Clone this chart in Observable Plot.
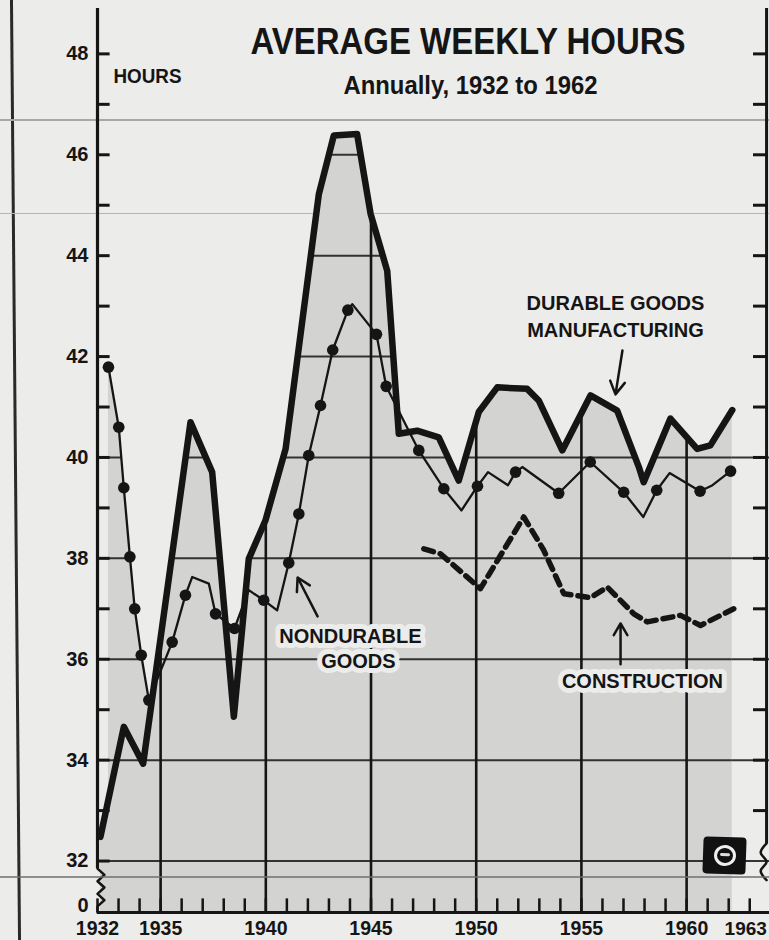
<!DOCTYPE html>
<html>
<head>
<meta charset="utf-8">
<script src="https://cdn.jsdelivr.net/npm/d3@7"></script>
<script src="https://cdn.jsdelivr.net/npm/@observablehq/plot@0.6"></script>
<style>
  html, body { margin: 0; padding: 0; background: #ececeb; }
  #wrap { position: relative; width: 769px; height: 940px; overflow: hidden; background: #ececeb; }
  #chart { position: absolute; left: 0; top: 0; }
  #chart svg { display: block; }
  .deco { position: absolute; pointer-events: none; }
  #pageline { left: 14px; top: -5px; width: 3px; height: 950px; background: #2a2a2a; transform: rotate(-0.49deg); }
  .scan { left: 0; width: 769px; }
  #logo { left: 703px; top: 837px; width: 43px; height: 37px; background: #111; border-radius: 4px; transform: rotate(2deg); }
  #ring { position: absolute; left: 11px; top: 8px; width: 16px; height: 15px; border: 3px solid #eee; border-radius: 50%; }
  #ring::after { content: ""; position: absolute; left: 3px; top: 5px; width: 10px; height: 3px; background: #ddd; border-radius: 2px; }
</style>
</head>
<body>
<div id="wrap">
  <div class="deco" id="pageline"></div>
  <div class="deco scan" style="top:119px;height:2px;background:#a8a8a8"></div>
  <div class="deco scan" style="top:213px;height:1px;background:#b5b5b5"></div>
  <div id="chart"></div>
  <div class="deco scan" style="top:876px;height:2px;background:#6f6f6f;opacity:0.75"></div>
  <div class="deco" id="logo"><div id="ring"></div></div>
</div>
<script>
// ---------------- data ----------------
// Durable goods manufacturing (heavy line)
const durableYears = [1932.14, 1933.25, 1934.17, 1936.42, 1937.45, 1938.48, 1939.19, 1939.98, 1940.94,
  1942.52, 1943.23, 1944.34, 1944.98, 1945.77, 1946.32, 1947.19, 1948.22, 1949.17, 1950.12, 1951.00,
  1952.42, 1952.97, 1954.09, 1955.43, 1956.70, 1957.73, 1957.96, 1959.23, 1960.50, 1961.13, 1962.17];
const durableHours = [32.48, 34.66, 33.93, 40.70, 39.71, 34.86, 37.99, 38.75, 40.17,
  45.22, 46.38, 46.41, 44.83, 43.70, 40.47, 40.53, 40.40, 39.54, 40.90, 41.39,
  41.36, 41.13, 40.14, 41.23, 40.93, 39.81, 39.51, 40.77, 40.17, 40.24, 40.94];

// Nondurable goods (thin line with dots)
const nondurYears = [1932.52, 1933.01, 1933.25, 1933.54, 1933.77, 1934.08, 1934.44, 1935.55, 1936.18,
  1936.50, 1937.29, 1937.61, 1938.51, 1939.19, 1939.90, 1940.54, 1941.09, 1941.57, 1942.04, 1942.60,
  1943.18, 1943.90, 1944.11, 1945.26, 1945.72, 1947.27, 1948.46, 1949.30, 1950.06, 1950.56, 1951.51,
  1951.87, 1952.19, 1953.92, 1955.42, 1957.01, 1957.94, 1958.58, 1959.19, 1960.64, 1961.23, 1962.09];
const nondurHours = [41.79, 40.60, 39.40, 38.03, 37.00, 36.08, 35.19, 36.34, 37.27,
  37.63, 37.50, 36.90, 36.61, 37.37, 37.17, 36.97, 37.91, 38.88, 40.04, 41.03,
  42.13, 42.92, 43.04, 42.44, 41.41, 40.14, 39.38, 38.95, 39.43, 39.71, 39.45,
  39.71, 39.81, 39.29, 39.91, 39.31, 38.82, 39.35, 39.69, 39.33, 39.45, 39.73];
const nondurDot = [1, 1, 1, 1, 1, 1, 1, 1, 1,
  0, 0, 1, 1, 0, 1, 0, 1, 1, 1, 1,
  1, 1, 0, 1, 1, 1, 1, 0, 1, 0, 0,
  1, 0, 1, 1, 1, 0, 1, 0, 1, 0, 1];

// Construction (dashed line)
const constrYears = [1947.51, 1948.30, 1950.20, 1952.26, 1953.21, 1954.16, 1955.43, 1956.23, 1957.49,
  1958.13, 1959.71, 1960.66, 1962.24];
const constrHours = [38.19, 38.09, 37.40, 38.82, 38.16, 37.30, 37.22, 37.43, 36.90,
  36.74, 36.87, 36.67, 37.00];

// Axis ticks and labels
const yTickLabels = [32, 34, 36, 38, 40, 42, 44, 46, 48];
const yGridHours = [32, 34, 36, 38, 40, 42, 44, 46];
const xTickLabels = [1932, 1935, 1940, 1945, 1950, 1955, 1960, 1963];
const xGridYears = [1935, 1940, 1945, 1950, 1955, 1960];
const minorYears = d3.range(1932, 1964);
const minorHours = d3.range(32, 49);
const zeroLabel = ["0"];

// Texts
const titleText = ["AVERAGE WEEKLY HOURS"];
const subtitleText = ["Annually, 1932 to 1962"];
const unitText = ["HOURS"];
const labelText = ["DURABLE GOODS", "MANUFACTURING", "NONDURABLE", "GOODS", "CONSTRUCTION"];
const labelYear = [1956.62, 1956.62, 1944.02, 1944.40, 1957.90];
const labelHours = [43.05, 42.52, 36.45, 35.96, 35.56];

// Pointer arrows (from label toward its line)
const arrowYear1 = [1956.95, 1942.46, 1956.86];
const arrowHours1 = [42.12, 36.85, 35.90];
const arrowYear2 = [1956.62, 1941.51, 1956.86];
const arrowHours2 = [41.25, 37.62, 36.71];

// ---------------- tables ----------------
const durable = durableYears.map((year, i) => ({year, hours: durableHours[i]}));
const nondur = nondurYears.map((year, i) => ({year, hours: nondurHours[i], dot: nondurDot[i] === 1}));
const constr = constrYears.map((year, i) => ({year, hours: constrHours[i]}));
const labels = labelText.map((text, i) => ({text, year: labelYear[i], hours: labelHours[i]}));
const arrows = arrowYear1.map((x1, i) => ({x1, y1: arrowHours1[i], x2: arrowYear2[i], y2: arrowHours2[i]}));

// ---------------- layout ----------------
const W = 769, H = 940;
const ink = "#151515", paper = "#ececeb", shade = "#d3d3d2";
const yBase = 30.98, yTop = 48.86;      // broken axis: bottom of frame stands for 0
const xStart = 1932, xRight = 1963.8, xEdge = 1964.3;
const lastD = durable[durable.length - 1];
const maskExt = [{year: lastD.year, hours: lastD.hours}, {year: xEdge, hours: lastD.hours}];

const zigLeft = d3.range(7).map(i => ({year: xStart + (i % 2 ? 0.33 : 0), hours: 31.85 - i * (31.85 - 31.1) / 6}));
zigLeft.push({year: xStart, hours: yBase});
const zigRight = d3.range(5).map(i => ({year: xRight - (i % 2 ? 0.28 : 0), hours: 32.35 - i * (32.35 - 31.62) / 4}));

const bold = {fontWeight: "bold", fill: ink};
const yearLabelStyle = {y: yBase, text: d => String(d), dy: 16, lineAnchor: "middle", fontSize: 19.5, ...bold};

const chart = Plot.plot({
  width: W,
  height: H,
  marginLeft: 97,
  marginRight: 19.76,
  marginTop: 10,
  marginBottom: 28,
  x: {domain: [1932, 1963], axis: null},
  y: {domain: [yBase, yTop], axis: null},
  style: {fontFamily: "'Liberation Sans', Arial, sans-serif", background: "transparent", overflow: "visible", color: ink},
  marks: [
    // shaded areas under the curves
    Plot.areaY(durable, {x: "year", y1: yBase, y2: "hours", fill: shade, ariaDescription: "shade"}),
    Plot.areaY(nondur, {x: "year", y1: yBase, y2: "hours", fill: shade, ariaDescription: "shade"}),
    Plot.areaY(maskExt, {x: "year", y1: yBase, y2: "hours", fill: "none", ariaDescription: "maskext"}),
    // grid (masked to the shaded region after rendering)
    Plot.ruleY(yGridHours, {x1: xStart, x2: xEdge, stroke: ink, strokeWidth: 2, strokeOpacity: 0.85, ariaDescription: "grid"}),
    Plot.ruleX(xGridYears, {y1: yBase, y2: yTop, stroke: ink, strokeWidth: 2.6, ariaDescription: "grid"}),
    // annotation labels with paper halo
    Plot.text(labels, {x: "year", y: "hours", text: "text", fontSize: 20, ...bold, lineAnchor: "middle",
      stroke: paper, strokeWidth: 10, strokeLinejoin: "round", ariaDescription: "label"}),
    // series
    Plot.line(constr, {x: "year", y: "hours", stroke: ink, strokeWidth: 5.5, strokeDasharray: "10,7"}),
    Plot.line(nondur, {x: "year", y: "hours", stroke: ink, strokeWidth: 2.3, strokeLinejoin: "round"}),
    Plot.dot(nondur.filter(d => d.dot), {x: "year", y: "hours", r: 5.8, fill: ink}),
    Plot.line(durable, {x: "year", y: "hours", stroke: ink, strokeWidth: 6.5, strokeLinejoin: "round"}),
    Plot.arrow(arrows, {x1: "x1", y1: "y1", x2: "x2", y2: "y2", stroke: ink, strokeWidth: 2.5, headLength: 12}),
    // left axis
    Plot.ruleX([xStart], {y1: 31.85, y2: yTop + 0.04, stroke: ink, strokeWidth: 3.2}),
    Plot.line(zigLeft, {x: "year", y: "hours", stroke: ink, strokeWidth: 2.5}),
    Plot.ruleY(minorHours, {x1: xStart, x2: xStart + 0.6, stroke: ink, strokeWidth: 3}),
    Plot.text(yTickLabels, {x: xStart, y: d => d, text: d => String(d), dx: -9, textAnchor: "end",
      lineAnchor: "middle", fontSize: 20, ...bold}),
    Plot.text(zeroLabel, {x: xStart, y: yBase, text: d => d, dx: -9, dy: -7, textAnchor: "end",
      lineAnchor: "middle", fontSize: 20, ...bold}),
    // right axis
    Plot.ruleX([xRight], {y1: 32.35, y2: yTop + 0.04, stroke: ink, strokeWidth: 3}),
    Plot.line(zigRight, {x: "year", y: "hours", stroke: ink, strokeWidth: 2.5, curve: "catmull-rom"}),
    Plot.ruleY(minorHours.filter(h => h >= 33), {x1: xRight - 0.62, x2: xRight, stroke: ink, strokeWidth: 3}),
    // bottom axis
    Plot.ruleY([yBase], {x1: xStart, x2: xEdge, stroke: ink, strokeWidth: 3.2}),
    Plot.ruleX(minorYears, {y1: yBase, y2: yBase + 0.27, stroke: ink, strokeWidth: 2.5}),
    Plot.text(xTickLabels.slice(0, -1), {x: d => d, ...yearLabelStyle}),
    Plot.text(xTickLabels.slice(-1), {x: d => d, ...yearLabelStyle, dx: -4, fontSize: 19}),
    // titles
    Plot.text(titleText, {frameAnchor: "top-left", dx: 370.5, dy: 43, text: d => d, textAnchor: "middle",
      lineAnchor: "bottom", fontSize: 36, ...bold, ariaDescription: "title"}),
    Plot.text(subtitleText, {frameAnchor: "top-left", dx: 373, dy: 83, text: d => d, textAnchor: "middle",
      lineAnchor: "bottom", fontSize: 25, ...bold, ariaDescription: "subtitle"}),
    Plot.text(unitText, {frameAnchor: "top-left", dx: 16, dy: 72, text: d => d, textAnchor: "start",
      lineAnchor: "bottom", fontSize: 21, ...bold, ariaDescription: "unit"})
  ]
});

document.getElementById("chart").appendChild(chart);

// ---------------- post-processing: grid only inside shaded region, text fitting ----------------
(function () {
  const svg = chart;
  const NS = "http://www.w3.org/2000/svg";
  const defs = document.createElementNS(NS, "defs");
  const mask = document.createElementNS(NS, "mask");
  mask.setAttribute("id", "under");
  mask.setAttribute("maskUnits", "userSpaceOnUse");
  mask.setAttribute("x", 0); mask.setAttribute("y", 0);
  mask.setAttribute("width", W); mask.setAttribute("height", H);
  svg.querySelectorAll('g[aria-description="shade"], g[aria-description="maskext"]').forEach(g => {
    const c = g.cloneNode(true);
    c.removeAttribute("aria-description");
    c.setAttribute("fill", "white");
    c.setAttribute("stroke", "none");
    c.querySelectorAll("*").forEach(e => e.removeAttribute("fill"));
    mask.appendChild(c);
  });
  defs.appendChild(mask);
  svg.insertBefore(defs, svg.firstChild);
  svg.querySelectorAll('g[aria-description="grid"]').forEach(g => g.setAttribute("mask", "url(#under)"));

  svg.querySelectorAll('g[aria-description="label"] text').forEach(t => {
    t.style.paintOrder = "stroke";
  });
  const fit = {title: 435, subtitle: 254, unit: 68};
  Object.entries(fit).forEach(([k, w]) => {
    svg.querySelectorAll(`g[aria-description="${k}"] text`).forEach(t => {
      t.setAttribute("textLength", w);
      t.setAttribute("lengthAdjust", "spacingAndGlyphs");
    });
  });
})();
</script>
</body>
</html>
